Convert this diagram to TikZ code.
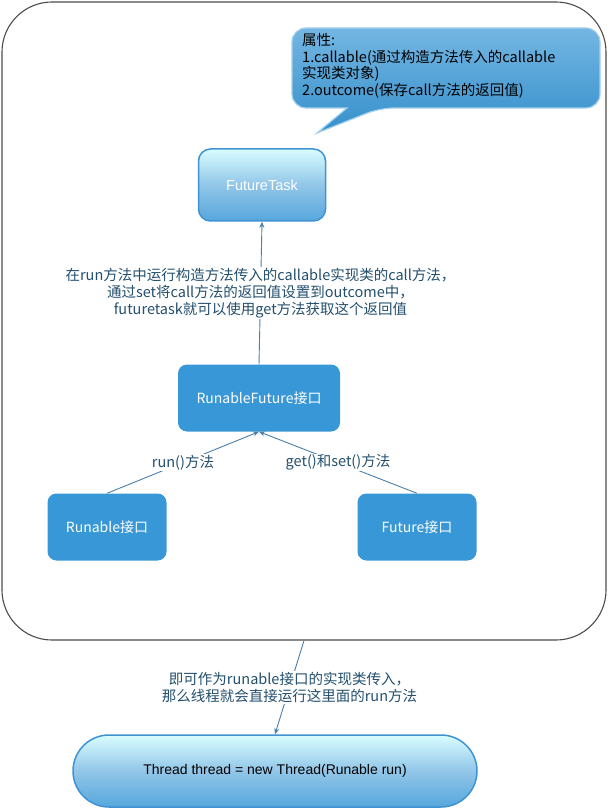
\documentclass[tikz,border=0pt]{standalone}
\usepackage{fontspec}
\setmainfont{Noto Sans CJK SC}
\newfontfamily\arialfont{Liberation Sans}
\usetikzlibrary{arrows.meta}
\definecolor{boxblue}{HTML}{3897D6}
\definecolor{edgeblue}{HTML}{3F93D3}
\definecolor{linkblue}{HTML}{4A7FAA}
\definecolor{lbltext}{HTML}{24506E}

\begin{document}
\begin{tikzpicture}[x=1pt,y=-1pt,
    blk/.style n args={2}{rectangle,rounded corners=9,fill=boxblue,
      text=white,minimum width=#1,minimum height=#2,
      font=\fontsize{14}{16}\selectfont},
    glossy/.style n args={3}{rectangle,rounded corners=#3,draw=edgeblue,
      line width=1.5pt,top color=blue!5!cyan!15,bottom color=boxblue!85,
      middle color=boxblue!55,minimum width=#1,minimum height=#2},
    lbl/.style={fill=white,text=lbltext,align=center,inner sep=1pt,
      font=\fontsize{14.5}{16.8}\selectfont},
    conn/.style={draw=linkblue,line width=0.9pt,
      -{Stealth[length=6pt,width=5pt]}}]
    \useasboundingbox (0,0) rectangle (609,810);
    \node[draw=black!70,line width=1.1pt,rounded corners=50,
          minimum width=604,minimum height=638] (outer) at (304,321) {};
    % bubble with the fields
    \draw[draw=boxblue!45,line width=1.2pt,top color=boxblue!70,
          bottom color=boxblue!95!black]
       (450,28) [rounded corners=14] -- (600,28) -- (600,108) -- (380,108)
       [sharp corners] -- (317,133) -- (347,108)
       [rounded corners=14] -- (292,108) -- (292,28) -- cycle;
    \node[anchor=west,align=left,inner sep=0,text=black,
          font=\fontsize{14.5}{16.5}\selectfont] (attr) at (302,66)
       {属性:\\1.callable(通过构造方法传入的callable\\实现类对象)\\2.outcome(保存call方法的返回值)};
    \node[glossy={127}{72}{12},text=white,
          font=\arialfont\fontsize{14.5}{16}\selectfont] (ftask) at (262,185) {FutureTask};
    \node[blk={162}{67}] (rfut) at (259,398) {RunableFuture接口};
    \node[blk={119}{67}] (runable) at (107,527) {Runable接口};
    \node[blk={119}{67}] (future) at (417,527) {Future接口};
    \node[glossy={404}{72}{36},text=black,
          font=\arialfont\fontsize{14}{16}\selectfont] (thread) at (275,771)
       {Thread thread = new Thread(Runable run)};
    \draw[conn] (rfut.north) -- node[lbl]
       {在run方法中运行构造方法传入的callable实现类的call方法，\\通过set将call方法的返回值设置到outcome中，\\futuretask就可以使用get方法获取这个返回值}
       (ftask.south);
    \draw[conn] (runable.north) -- node[lbl] {run()方法} (rfut.south);
    \draw[conn] (future.north) -- node[lbl] {get()和set()方法} (rfut.south);
    \draw[conn] (outer.south) -- node[lbl]
       {即可作为runable接口的实现类传入，\\那么线程就会直接运行这里面的run方法} (thread.north);
\end{tikzpicture}
\end{document}
